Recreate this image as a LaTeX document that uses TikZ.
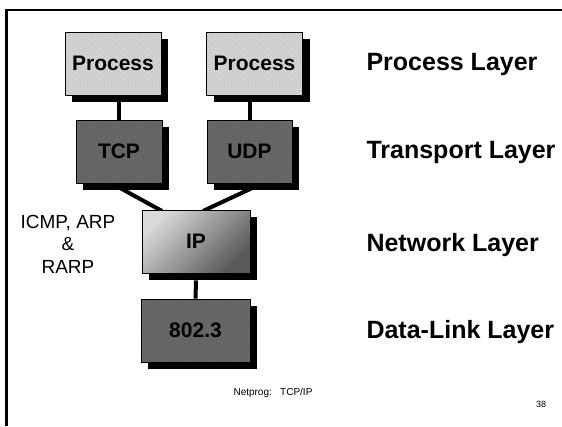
\documentclass[tikz,border=0pt]{standalone}
\usepackage{fontspec}
\setmainfont{Liberation Sans}
\usetikzlibrary{shadows,patterns}
\definecolor{lightbox}{HTML}{DADADA}
\definecolor{lighthatch}{HTML}{BDBDBD}
\definecolor{darkbox}{HTML}{6C6C6C}
\definecolor{darkhatch}{HTML}{5A5A5A}
\tikzset{
  layerbox/.style={draw=black, line width=0.9pt, minimum height=63pt, inner sep=0pt,
    font=\fontsize{21}{25}\selectfont\bfseries,
    drop shadow={shadow xshift=7pt, shadow yshift=-7pt, fill=black, opacity=1}},
  lightstyle/.style={layerbox, preaction={fill=lightbox}, pattern=north west lines, pattern color=lighthatch},
  darkstyle/.style={layerbox, preaction={fill=darkbox}, pattern=north west lines, pattern color=darkhatch},
  gradstyle/.style={layerbox, shading=axis, top color=lightbox, bottom color=black!65, shading angle=45},
  link/.style={line width=4pt, black},
  layerlabel/.style={anchor=base west, font=\fontsize{25}{30}\selectfont\bfseries},
}
\begin{document}
\begin{tikzpicture}[x=1pt, y=-1pt]
\useasboundingbox[fill=white] (0,0) rectangle (562,426);
% frame
\draw[line width=2.5pt] (6.5,426) -- (6.5,10) -- (562,10);
% connector anchor points (free ends hidden under boxes)
\coordinate (tcpfoot) at (111,183);
\coordinate (udpfoot) at (263,183);
\coordinate (ipleft) at (162,211);
\coordinate (ipright) at (203,211);
\draw[link] (tcpfoot) -- (ipleft);
\draw[link] (udpfoot) -- (ipright);
% nodes
\node[lightstyle, minimum width=96pt] (p1) at (113,63.5) {Process};
\node[lightstyle, minimum width=96pt] (p2) at (254.5,63.5) {Process};
\node[darkstyle, minimum width=86pt] (tcp) at (119,151.5) {TCP};
\node[darkstyle, minimum width=85pt] (udp) at (249.5,151.5) {UDP};
\node[gradstyle, minimum width=108pt] (ip) at (196,241.5) {IP};
\node[darkstyle, minimum width=109pt] (eth) at (195.5,330.5) {802.3};
% vertical connectors
\draw[link] (tcp.north |- p1.south) -- (tcp.north);
\draw[link] (udp.north |- p2.south) -- (udp.north);
\draw[link] ([yshift=-7pt]ip.south) -- (eth.north);
% labels
\node[layerlabel] (l1) at (363,70) {Process Layer};
\node[layerlabel] (l2) at (363,158) {Transport Layer};
\node[layerlabel] (l3) at (363,251) {Network Layer};
\node[layerlabel] (l4) at (363,338) {Data-Link Layer};
\node[align=center, font=\fontsize{19}{22.5}\selectfont] (side) at (68,244) {ICMP, ARP\\\&\\RARP};
\node[anchor=west, font=\fontsize{10}{12}\selectfont] (foot) at (230,393) {Netprog:\ \ \ TCP/IP};
\node[font=\fontsize{9}{11}\selectfont] (num) at (541,404) {38};
\end{tikzpicture}
\end{document}
